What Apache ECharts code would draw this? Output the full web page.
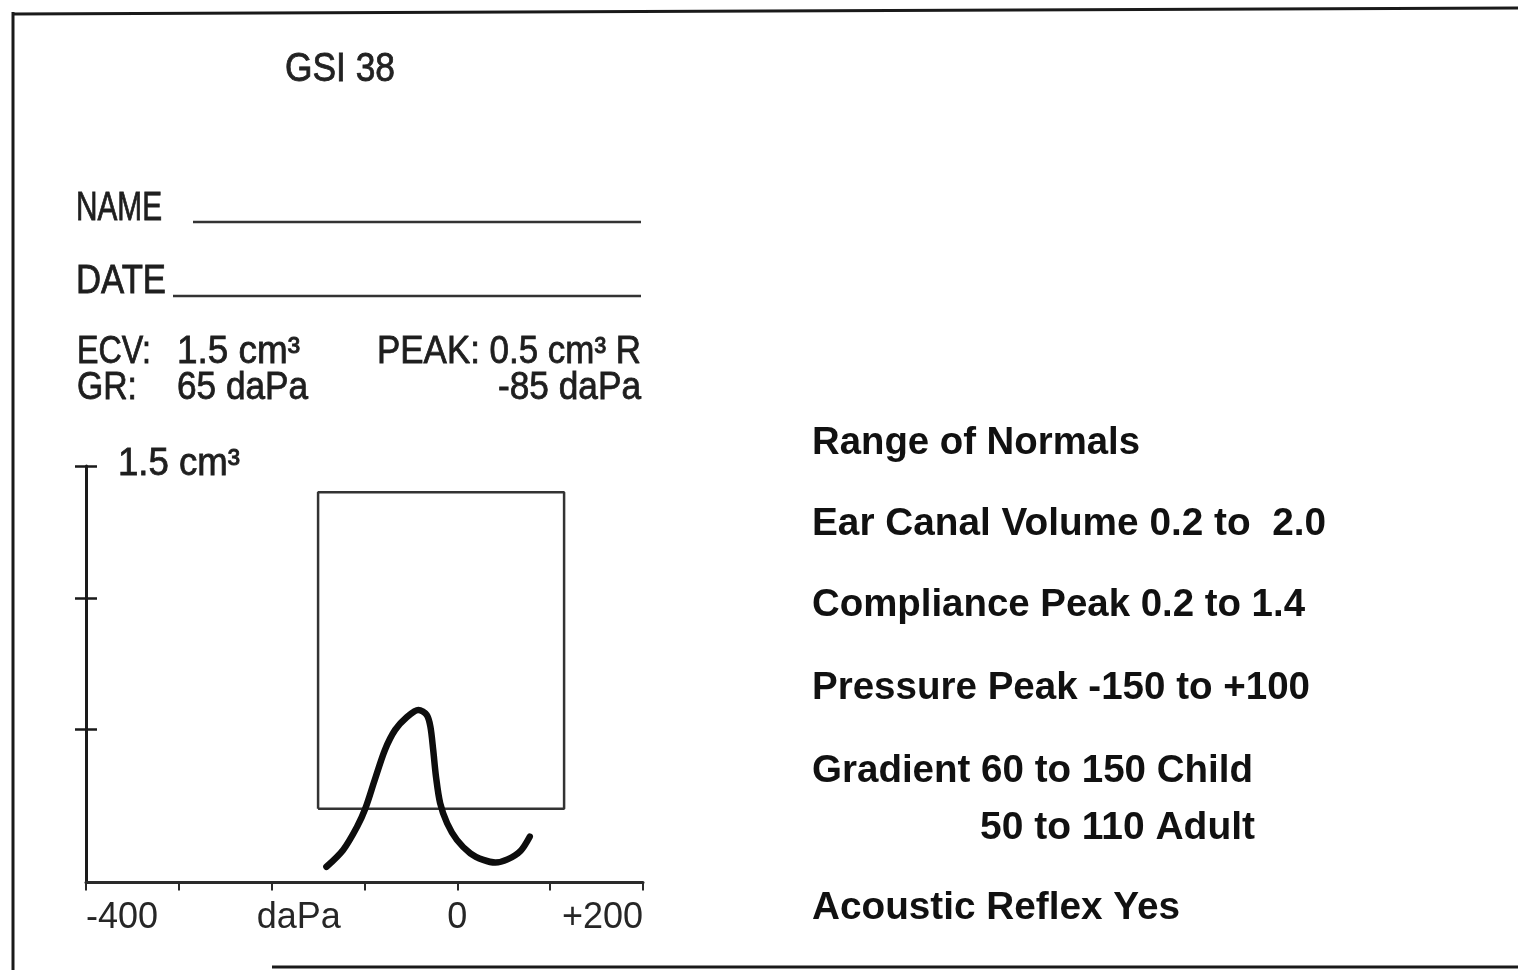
<!DOCTYPE html>
<html>
<head>
<meta charset="utf-8">
<script src="https://cdn.jsdelivr.net/npm/echarts@6/dist/echarts.min.js"></script>
<style>
html,body{margin:0;padding:0;background:#fff;}
#c{width:1518px;height:970px;}
</style>
</head>
<body>
<div id="c"></div>
<script>
// ---- data ----
const xTickValues = [-400, -200, 0, 200];
const xTickLabels = ['-400', 'daPa', '0', '+200'];
const yTickValues = [0.5, 1.0, 1.5];
const curvePressure   = [-141, -123, -108, -99, -89, -78, -67, -54, -42, -33, -29, -26, -23, -18.5, -11, -0.5, 14, 28, 41, 54, 68, 78];
const curveCompliance = [-0.020, 0.044, 0.132, 0.202, 0.309, 0.423, 0.499, 0.549, 0.575, 0.556, 0.511, 0.423, 0.322, 0.221, 0.145, 0.082, 0.031, 0.006, -0.004, 0.008, 0.040, 0.094];
const boxPressure = [-150, 115];
const boxCompliance = [0.2, 1.4];
const titleText = 'GSI 38';
const formLabels = ['NAME', 'DATE'];
const resultLeft = ['ECV:', 'GR:'];
const resultLeftValues = ['1.5 cm³', '65 daPa'];
const resultRight = ['PEAK: 0.5 cm³ R', '-85 daPa'];
const yAxisTitle = '1.5 cm³';
const normalsLines = [
  'Range of Normals',
  'Ear Canal Volume 0.2 to  2.0',
  'Compliance Peak 0.2 to 1.4',
  'Pressure Peak -150 to +100',
  'Gradient 60 to 150 Child',
  '50 to 110 Adult',
  'Acoustic Reflex Yes'
];

// ---- helpers ----
const FONT = '"Liberation Sans", Arial, sans-serif';
const mctx = document.createElement('canvas').getContext('2d');
function fitScale(text, size, weight, target) {
  mctx.font = (weight || 'normal') + ' ' + size + 'px ' + FONT;
  return target / mctx.measureText(text).width;
}
function txt(text, x, y, size, weight, target, align, fill, stroke) {
  return {
    type: 'text', x: x, y: y,
    scaleX: target ? fitScale(text, size, weight, target) : 1,
    style: {
      text: text, fontSize: size, fontWeight: weight || 'normal',
      fontFamily: FONT,
      fill: fill || '#1e1e1e', align: align || 'left', verticalAlign: 'middle',
      stroke: stroke ? (fill || '#1e1e1e') : null, lineWidth: stroke || 0
    },
    z: 10
  };
}
function line(x1, y1, x2, y2, w, c) {
  return { type: 'line', shape: { x1: x1, y1: y1, x2: x2, y2: y2 },
    style: { stroke: c || '#1a1a1a', lineWidth: w }, z: 5 };
}

const curveData = curvePressure.map((p, i) => [p, curveCompliance[i]]);
const boxData = [
  [boxPressure[0], boxCompliance[0]], [boxPressure[1], boxCompliance[0]],
  [boxPressure[1], boxCompliance[1]], [boxPressure[0], boxCompliance[1]],
  [boxPressure[0], boxCompliance[0]]
];

// layout of text
const graphics = [
  // frame
  line(12, 14, 1518, 8, 3),
  line(13, 12, 13, 970, 3),
  line(272, 967, 1518, 967, 3),
  // header
  txt(titleText, 285, 70, 40, 'normal', 110, 'left', '#222', 0.8),
  txt(formLabels[0], 76, 209, 40, 'normal', 86, 'left', '#1e1e1e', 0.8),
  line(193, 222, 641, 222, 2.5, '#333'),
  txt(formLabels[1], 76, 282, 40, 'normal', 90, 'left', '#1e1e1e', 0.8),
  line(173, 296, 641, 296, 2.5, '#333'),
  txt(resultLeft[0], 77, 353, 38, 'normal', 74, 'left', '#1e1e1e', 0.8),
  txt(resultLeftValues[0], 177, 353, 38, 'normal', 123, 'left', '#1e1e1e', 0.8),
  txt(resultLeft[1], 77, 389, 38, 'normal', 60, 'left', '#1e1e1e', 0.8),
  txt(resultLeftValues[1], 177, 389, 38, 'normal', 131, 'left', '#1e1e1e', 0.8),
  txt(resultRight[0], 641, 353, 38, 'normal', 264, 'right', '#1e1e1e', 0.8),
  txt(resultRight[1], 641, 389, 38, 'normal', 143, 'right', '#1e1e1e', 0.8),
  txt(yAxisTitle, 118, 465, 38, 'normal', 122, 'left', '#1e1e1e', 0.8)
];
const normY = [444, 525, 606, 689, 772, 829, 909];
const normX = [812, 812, 812, 812, 812, 980, 812];
const normW = [328, 514, 493, 498, 441, 275, 368];
normalsLines.forEach((t, i) => graphics.push(txt(t, normX[i], normY[i], 38, 'bold', normW[i], 'left', '#111')));

const chart = echarts.init(document.getElementById('c'), null, { renderer: 'canvas' });
chart.setOption({
  animation: false,
  backgroundColor: '#ffffff',
  grid: { left: 86, top: 466, width: 557, height: 416.6, containLabel: false },
  xAxis: {
    type: 'value', min: -400, max: 200, interval: 100,
    axisLine: { show: true, onZero: false, lineStyle: { color: '#2a2a2a', width: 3 } },
    axisTick: { show: true, length: 8, lineStyle: { color: '#2a2a2a', width: 2 } },
    splitLine: { show: false },
    axisLabel: {
      show: true, customValues: xTickValues, margin: 17,
      alignMinLabel: 'left', alignMaxLabel: 'right',
      fontSize: 36, color: '#262626', fontFamily: FONT,
      formatter: function (v) {
        const i = xTickValues.indexOf(v);
        const s = i >= 0 ? xTickLabels[i] : '';
        return v === -200 ? '{d|' + s + '}' : s;
      },
      rich: { d: { fontSize: 36, color: '#262626', fontFamily: FONT, padding: [0, 0, 0, 54] } }
    }
  },
  yAxis: [{
    type: 'value', min: -0.08, max: 1.5,
    axisLine: { show: true, onZero: false, lineStyle: { color: '#1a1a1a', width: 3 } },
    axisTick: { show: true, customValues: yTickValues, length: 11, lineStyle: { color: '#1a1a1a', width: 2.5 } },
    axisLabel: { show: false },
    splitLine: { show: false }
  }, {
    type: 'value', min: -0.08, max: 1.5, position: 'left',
    axisLine: { show: false, onZero: false },
    axisTick: { show: true, inside: true, customValues: yTickValues, length: 11, lineStyle: { color: '#1a1a1a', width: 2.5 } },
    axisLabel: { show: false },
    splitLine: { show: false }
  }],
  series: [{
    type: 'line', name: 'normal range', data: boxData, symbol: 'none',
    lineStyle: { color: '#333', width: 2.5 }, z: 2
  }, {
    type: 'line', name: 'tympanogram', data: curveData, smooth: 0.3, symbol: 'none',
    lineStyle: { color: '#0d0d0d', width: 6.5, cap: 'round', join: 'round' }, z: 3
  }],
  graphic: graphics
});
</script>
</body>
</html>
